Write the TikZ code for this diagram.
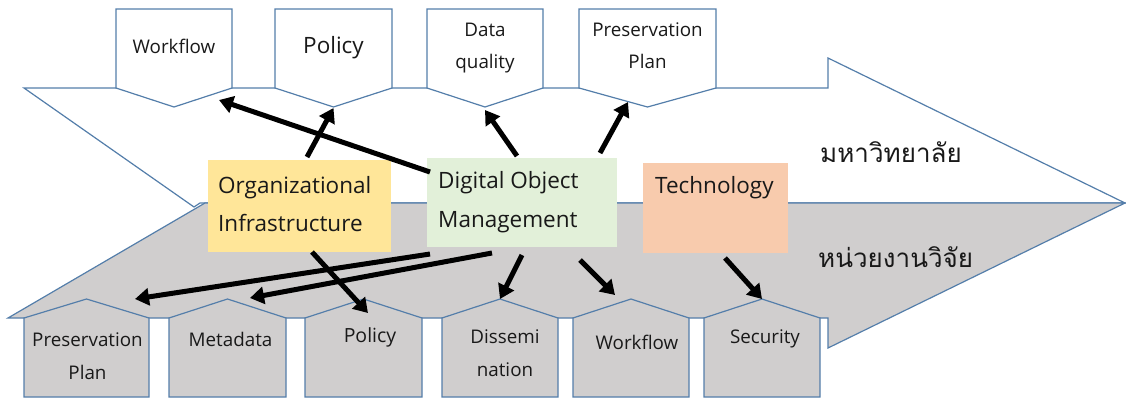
\documentclass[tikz,border=0pt]{standalone}
\usepackage{fontspec}
\setmainfont{Open Sans}
\newfontfamily\thaifont[Script=Thai]{Loma}
\usetikzlibrary{arrows.meta,calc}
\definecolor{edgeblue}{RGB}{84,126,170}
\definecolor{lowgray}{RGB}{208,206,206}
\definecolor{orgyellow}{RGB}{255,230,153}
\definecolor{domgreen}{RGB}{226,240,217}
\definecolor{techpeach}{RGB}{248,203,173}
\definecolor{textdark}{RGB}{25,25,25}
\tikzset{
  shapeline/.style={draw=edgeblue,line width=1.2pt,line join=miter},
  hbody/.style={inner sep=0pt,outer sep=0pt,minimum height=79pt},
  cbox/.style={inner sep=0pt,outer sep=0pt,draw=none},
  smalllabel/.style={font=\fontsize{18.8}{20}\selectfont,text=textdark,inner sep=0pt,anchor=base},
  biglabel/.style={font=\fontsize{22.5}{24}\selectfont,text=textdark,inner sep=0pt,anchor=base west},
  thailabel/.style={font=\thaifont\fontsize{26}{28}\selectfont,text=textdark,inner sep=0pt,anchor=base west},
  flowarrow/.style={line width=5pt,-{Triangle[length=14pt,width=17pt]},black}
}
\newcommand{\TopHouse}[3]{%
  \node[hbody,minimum width=#3pt] (#1) at (#2,48.5) {};
  \coordinate (#1-tip) at ($(#1.south)+(0,19)$);
  \draw[shapeline,fill=white] (#1.north west) -- (#1.north east) -- (#1.south east) -- (#1-tip) -- (#1.south west) -- cycle;}
\newcommand{\BotHouse}[3]{%
  \node[hbody,minimum width=#3pt] (#1) at (#2,357.5) {};
  \coordinate (#1-tip) at ($(#1.north)+(0,-19)$);
  \draw[shapeline,fill=lowgray] (#1.south west) -- (#1.south east) -- (#1.north east) -- (#1-tip) -- (#1.north west) -- cycle;}
\begin{document}
\begin{tikzpicture}[x=1pt,y=-1pt]
\useasboundingbox (0,0) rectangle (1126,399);
% upper (white) arrow
\draw[shapeline,fill=white] (24,88) -- (828,88) -- (828,58) -- (1125,203) -- (200,203) -- (194,207) -- cycle;
% lower (gray) arrow
\draw[shapeline,fill=lowgray] (205,203) -- (1125,203) -- (828,348) -- (828,318) -- (8,318) -- cycle;
% top houses
\TopHouse{tw}{174}{116}
\TopHouse{tp}{333.5}{117}
\TopHouse{tq}{485}{116}
\TopHouse{tpp}{647.5}{137}
\node[smalllabel] (twl) at (174,53) {Workflow};
\node[smalllabel,font=\fontsize{22.5}{24}\selectfont] (tpl) at (333.5,53) {Policy};
\node[smalllabel] (tql1) at (485,36) {Data};
\node[smalllabel] (tql2) at (485,68.5) {quality};
\node[smalllabel] (tppl1) at (647.5,36) {Preservation};
\node[smalllabel] (tppl2) at (647.5,68.5) {Plan};
% bottom houses
\BotHouse{bpp}{86.5}{125}
\BotHouse{bmd}{227.5}{117}
\BotHouse{bpo}{363.5}{117}
\BotHouse{bdi}{500}{116}
\BotHouse{bwf}{631}{116}
\BotHouse{bse}{762}{116}
\node[smalllabel] (bppl1) at (87.5,346) {Preservation};
\node[smalllabel] (bppl2) at (87.5,379) {Plan};
\node[smalllabel] (bmdl) at (230.5,346) {Metadata};
\node[smalllabel,font=\fontsize{19.5}{21}\selectfont] (bpol) at (370,342) {Policy};
\node[smalllabel] (bdil1) at (505,343) {Dissemi};
\node[smalllabel] (bdil2) at (505,376) {nation};
\node[smalllabel] (bwfl) at (637,349) {Workflow};
\node[smalllabel] (bsel) at (765,343) {Security};
% coloured boxes
\node[cbox,fill=orgyellow,minimum width=183pt,minimum height=92pt] (org) at (299.5,206) {};
\node[cbox,fill=domgreen,minimum width=190pt,minimum height=89pt] (dom) at (522,202.5) {};
\node[cbox,fill=techpeach,minimum width=145pt,minimum height=90pt] (tech) at (715.5,208) {};
\node[biglabel] (orgl1) at (218,193) {Organizational};
\node[biglabel] (orgl2) at (218,231) {Infrastructure};
\node[biglabel] (doml1) at (438,188) {Digital Object};
\node[biglabel] (doml2) at (438,227) {Management};
\node[biglabel] (techl) at (655,193) {Technology};
% Thai labels
\node[thailabel] (uni) at (820,162) {มหาวิทยาลัย};
\node[thailabel] (res) at (818,267) {หน่วยงานวิจัย};
% connector end points
\coordinate (a1s) at ($(dom.north west)+(3,14)$);
\coordinate (a1e) at ($(tw.south east)+(-13,12)$);
\coordinate (a2s) at ($(org.north west)+(99,-3)$);
\coordinate (a3s) at ($(dom.north west)+(90,-2)$);
\coordinate (a4s) at ($(dom.north west)+(173,-5)$);
\coordinate (a4e) at ($(tpp.south west)+(49,14)$);
\coordinate (b1s) at ($(dom.south west)+(3,7)$);
\coordinate (b1e) at ($(bpp.north east)+(-14,-19)$);
\coordinate (b2s) at ($(dom.south west)+(65,6)$);
\coordinate (b2e) at ($(bmd.north)+(22.5,-20)$);
\coordinate (b3s) at ($(org.south west)+(104,0)$);
\coordinate (b3e) at ($(bpo.north)+(4.5,-5)$);
\coordinate (b4s) at ($(dom.south west)+(95,8)$);
\coordinate (b5s) at ($(dom.south west)+(153,13)$);
\coordinate (b5e) at ($(bwf.north west)+(42,-23)$);
\coordinate (b6s) at ($(tech.south west)+(82,5)$);
% connectors
\draw[flowarrow] (a1s) -- (a1e);
\draw[flowarrow] (a2s) -- ($(tp-tip)+(0,1)$);
\draw[flowarrow] (a3s) -- ($(tq-tip)+(0,3)$);
\draw[flowarrow] (a4s) -- (a4e);
\draw[flowarrow] (b1s) -- (b1e);
\draw[flowarrow] (b2s) -- (b2e);
\draw[flowarrow] (b3s) -- (b3e);
\draw[flowarrow] (b4s) -- (bdi-tip);
\draw[flowarrow] (b5s) -- (b5e);
\draw[flowarrow] (b6s) -- (bse-tip);
\end{tikzpicture}
\end{document}
